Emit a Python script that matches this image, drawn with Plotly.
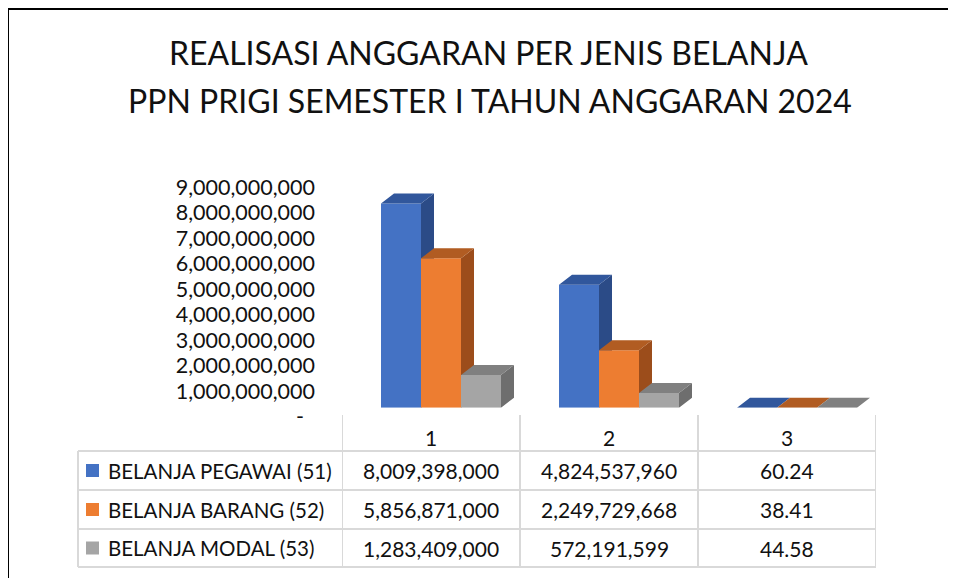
import plotly.graph_objects as go

# ---------------- data ----------------
categories = [1, 2, 3]
series_names = ["BELANJA PEGAWAI (51)", "BELANJA BARANG (52)", "BELANJA MODAL (53)"]
belanja_pegawai = [8009398000, 4824537960, 60.24]
belanja_barang = [5856871000, 2249729668, 38.41]
belanja_modal = [1283409000, 572191599, 44.58]
y_tick_vals = [0, 1e9, 2e9, 3e9, 4e9, 5e9, 6e9, 7e9, 8e9, 9e9]
y_tick_text = ["-\u00a0\u00a0", "1,000,000,000", "2,000,000,000", "3,000,000,000",
               "4,000,000,000", "5,000,000,000", "6,000,000,000", "7,000,000,000",
               "8,000,000,000", "9,000,000,000"]
title_line1 = "REALISASI ANGGARAN PER JENIS BELANJA"
title_line2 = "PPN PRIGI SEMESTER I TAHUN ANGGARAN 2024"

series_values = [belanja_pegawai, belanja_barang, belanja_modal]
front_colors = ["#4472C4", "#ED7D31", "#A5A5A5"]
top_colors = ["#31579C", "#B15C22", "#808080"]
side_colors = ["#2B4B87", "#9C4D1B", "#6E6E6E"]

W, H = 956, 578
OFF = 8  # page body margin
FONT = "Lato"
TXT = "#111111"
FS = 21


def px(x):
    return (x - OFF) / W


def py(y):
    return 1 - (y - OFF) / H


# bar geometry (data units on category axis)
bar_w = 40 / 178
offsets = [-0.2809, -0.2809 + bar_w, -0.2809 + 2 * bar_w]
depth_x = 13 / 178
depth_y = 10 / 25.5 * 1e9

fig = go.Figure()

for i, (name, vals) in enumerate(zip(series_names, series_values)):
    k = "" if i == 0 else str(i + 1)
    xa, ya = "x" + k, "y" + k
    fig.add_trace(go.Bar(
        x=categories, y=vals, name=name, width=bar_w, offset=offsets[i],
        marker=dict(color=front_colors[i], line=dict(width=0)),
        xaxis=xa, yaxis=ya, showlegend=False, hoverinfo="x+y+name"))
    side_x, side_y, top_x, top_y = [], [], [], []
    for c, v in zip(categories, vals):
        x0 = c + offsets[i]
        x1 = x0 + bar_w
        side_x += [x1, x1 + depth_x, x1 + depth_x, x1, x1, None]
        side_y += [0, depth_y, v + depth_y, v, 0, None]
        top_x += [x0, x0 + depth_x, x1 + depth_x, x1, x0, None]
        top_y += [v, v + depth_y, v + depth_y, v, v, None]
    fig.add_trace(go.Scatter(x=side_x, y=side_y, mode="lines", fill="toself",
                             fillcolor=side_colors[i], line=dict(width=0, color=side_colors[i]),
                             xaxis=xa, yaxis=ya, showlegend=False, hoverinfo="skip",
                             cliponaxis=False))
    fig.add_trace(go.Scatter(x=top_x, y=top_y, mode="lines", fill="toself",
                             fillcolor=top_colors[i], line=dict(width=0, color=top_colors[i]),
                             xaxis=xa, yaxis=ya, showlegend=False, hoverinfo="skip",
                             cliponaxis=False))

x_dom = [px(342), px(876)]
y_dom = [py(407.7), py(178.2)]

fig.update_layout(
    width=W, height=H,
    margin=dict(l=0, r=0, t=0, b=0, pad=0),
    paper_bgcolor="white", plot_bgcolor="rgba(0,0,0,0)",
    barmode="overlay",
    font=dict(family=FONT, size=FS, color=TXT),
    xaxis=dict(domain=x_dom, range=[0.5, 3.5], visible=False, fixedrange=True,
               automargin=False),
    yaxis=dict(domain=y_dom, range=[0, 9e9], tickvals=y_tick_vals, ticktext=y_tick_text,
               showgrid=False, zeroline=False, showline=False, ticks="",
               ticklabelstandoff=26, ticklabelshift=9, automargin=False,
               tickfont=dict(family=FONT, size=FS + 0.5, color=TXT), fixedrange=True),
    xaxis2=dict(domain=x_dom, range=[0.5, 3.5], visible=False, overlaying="x",
                matches="x", automargin=False),
    yaxis2=dict(domain=y_dom, range=[0, 9e9], visible=False, overlaying="y",
                matches="y", automargin=False),
    xaxis3=dict(domain=x_dom, range=[0.5, 3.5], visible=False, overlaying="x",
                matches="x", automargin=False),
    yaxis3=dict(domain=y_dom, range=[0, 9e9], visible=False, overlaying="y",
                matches="y", automargin=False),
    showlegend=False,
)

shapes = []
annotations = []

# outer frame (left and top edges)
shapes.append(dict(type="line", xref="paper", yref="paper",
                   x0=px(7.5), x1=1.0, y0=py(8.5), y1=py(8.5),
                   line=dict(color="#000000", width=3)))
shapes.append(dict(type="line", xref="paper", yref="paper",
                   x0=px(7.5), x1=px(7.5), y0=py(8.5), y1=0,
                   line=dict(color="#000000", width=3)))

# titles
annotations.append(dict(text=title_line1, xref="paper", yref="paper", x=px(488), y=py(52),
                        showarrow=False, font=dict(family=FONT, size=32, color=TXT),
                        xanchor="center", yanchor="middle"))
annotations.append(dict(text=title_line2, xref="paper", yref="paper", x=px(490), y=py(100),
                        showarrow=False, font=dict(family=FONT, size=32, color=TXT),
                        xanchor="center", yanchor="middle"))

# data table
grid = "#D9D9D9"
row_lines = [451, 490, 529, 567]
for yl in row_lines:
    shapes.append(dict(type="line", xref="paper", yref="paper",
                       x0=px(78), x1=px(876), y0=py(yl), y1=py(yl),
                       line=dict(color=grid, width=2)))
shapes.append(dict(type="line", xref="paper", yref="paper",
                   x0=px(78), x1=px(78), y0=py(451), y1=py(567),
                   line=dict(color=grid, width=2)))
for xv in [0.5, 1.5, 2.5, 3.5]:
    shapes.append(dict(type="line", xref="x", yref="paper",
                       x0=xv, x1=xv, y0=py(415), y1=py(567),
                       line=dict(color=grid, width=2)))

# header (category numbers)
for c in categories:
    annotations.append(dict(text=str(c), xref="x", yref="paper", x=c, y=py(437),
                            showarrow=False, xanchor="center", yanchor="middle",
                            font=dict(family=FONT, size=FS, color=TXT)))

row_centers = [470.5, 509.5, 548]


def fmt(v):
    return f"{v:,.0f}" if v >= 1000 else f"{v:.2f}"


for i, (name, vals) in enumerate(zip(series_names, series_values)):
    yc = row_centers[i]
    shapes.append(dict(type="rect", xref="paper", yref="paper",
                       x0=px(86), x1=px(99), y0=py(yc + 6.5), y1=py(yc - 6.5),
                       line=dict(width=0), fillcolor=front_colors[i]))
    annotations.append(dict(text=name, xref="paper", yref="paper", x=px(106), y=py(yc),
                            showarrow=False, xanchor="left", yanchor="middle",
                            font=dict(family=FONT, size=FS - 0.5, color=TXT)))
    for c, v in zip(categories, vals):
        annotations.append(dict(text=fmt(v), xref="x", yref="paper", x=c, y=py(yc),
                                showarrow=False, xanchor="center", yanchor="middle",
                                font=dict(family=FONT, size=FS, color=TXT)))

fig.update_layout(shapes=shapes, annotations=annotations)

fig.write_html("out.html")
